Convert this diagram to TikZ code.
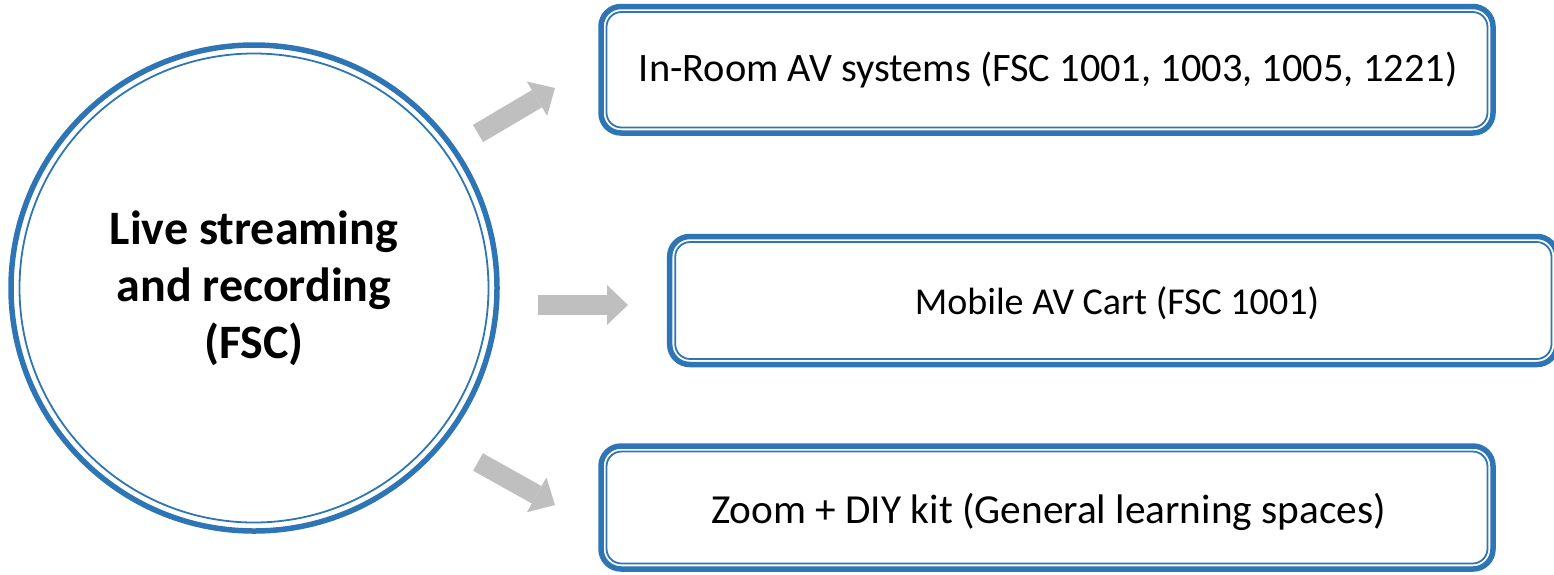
\documentclass[tikz,border=0pt]{standalone}
\usepackage{fontspec}
\setmainfont{Carlito}
\usetikzlibrary{arrows.meta}
\definecolor{accentblue}{HTML}{2E75B6}
\definecolor{arrowgray}{HTML}{BFBFBF}
\begin{document}
\begin{tikzpicture}[x=1pt,y=-1pt,
  outerline/.style={draw=accentblue,line width=5.5pt},
  innerline/.style={draw=accentblue,line width=1.8pt},
  boxnode/.style={outerline,rectangle,rounded corners=20pt,inner sep=0pt},
  innerbox/.style={innerline,rectangle,rounded corners=15pt,inner sep=0pt},
  boxtext/.style={inner sep=0pt},
  hubnode/.style={outerline,circle,inner sep=0pt,minimum size=486pt,align=center,font=\bfseries\fontsize{48}{57}\selectfont},
  blockarrow/.style={draw=arrowgray,line width=20pt,-{Triangle[length=21pt,width=40pt,line width=0pt]}}]
\useasboundingbox (0,0) rectangle (1554,574);

% hub circle
\node[hubnode] (hub) at (254,288) {Live streaming\\and recording\\(FSC)};
\draw[innerline] (hub.center) circle[radius=234.5pt];

% boxes
\node[boxnode,minimum width=892pt,minimum height=126.5pt] (b1) at (1047,69.75) {};
\node[innerbox,minimum width=881pt,minimum height=115.5pt] (b1i) at (b1.center) {};
\node[boxtext,font=\fontsize{40.4}{48}\selectfont] (t1) at (1048,70) {In-Room AV systems (FSC 1001, 1003, 1005, 1221)};

\node[boxnode,minimum width=887.3pt,minimum height=128pt] (b2) at (1113.35,300.5) {};
\node[innerbox,minimum width=876.3pt,minimum height=117pt] (b2i) at (b2.center) {};
\node[boxtext,font=\fontsize{38}{46}\selectfont] (t2) at (1117,303) {Mobile AV Cart (FSC 1001)};

\node[boxnode,minimum width=892pt,minimum height=123pt] (b3) at (1047,507.5) {};
\node[innerbox,minimum width=881pt,minimum height=112pt] (b3i) at (b3.center) {};
\node[boxtext,font=\fontsize{41.3}{49}\selectfont] (t3) at (1048.5,512) {Zoom + DIY kit (General learning spaces)};

% arrows
\coordinate (a1s) at (478,133.5);
\coordinate (a1e) at (555,88);
\coordinate (a2s) at (538,305);
\coordinate (a2e) at (628,305);
\coordinate (a3s) at (478,462);
\coordinate (a3e) at (555,505);
\draw[blockarrow] (a1s) -- (a1e);
\draw[blockarrow] (a2s) -- (a2e);
\draw[blockarrow] (a3s) -- (a3e);
\end{tikzpicture}
\end{document}
